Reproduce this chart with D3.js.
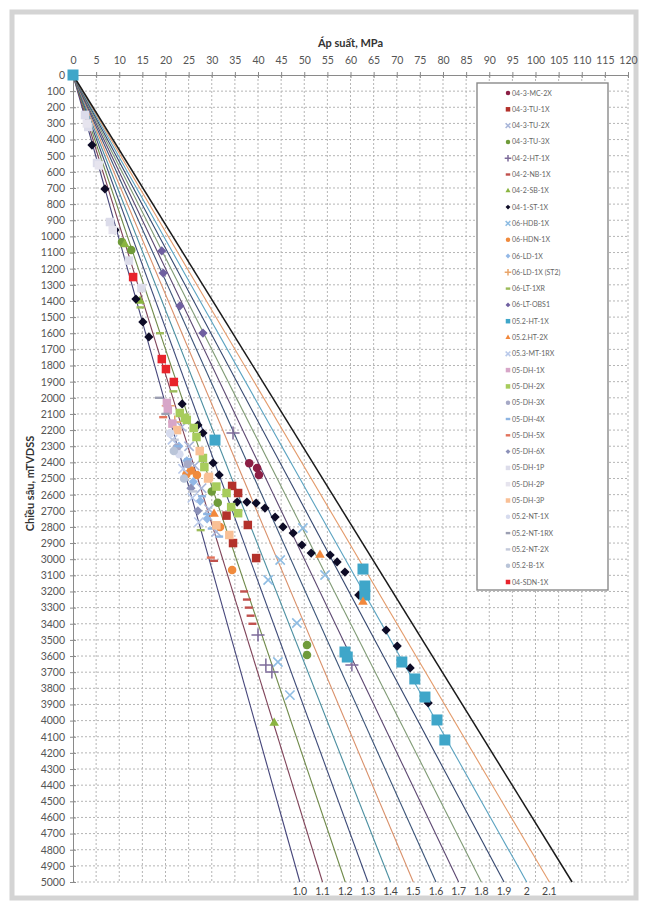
<!DOCTYPE html>
<html>
<head>
<meta charset="utf-8">
<script src="https://cdn.jsdelivr.net/npm/d3@7"></script>
<style>
  body { margin: 0; background: #fff; }
  svg text { font-family: Lato, "Open Sans", sans-serif; }
</style>
</head>
<body>
<div id="visDiv"></div>
<script>
(function () {

	///////////////////////
	// DATA  (pressure MPa, depth m)
	//
	var xTicks = d3.range(0, 125, 5),
		yTicks = d3.range(0, 5100, 100),
		gradients = [1.0, 1.1, 1.2, 1.3, 1.4, 1.5, 1.6, 1.7, 1.8, 1.9, 2.0, 2.1, 2.2],
		gradientLabels = ["1.0", "1.1", "1.2", "1.3", "1.4", "1.5", "1.6", "1.7", "1.8", "1.9", "2", "2.1", ""];

	var mc2x   = [[38.1, 2405], [39.8, 2435], [40.2, 2478]];
	var tu1x   = [[34.4, 2546], [35.7, 2590], [37.8, 2788], [34.6, 2900], [39.6, 2993], [33.2, 2730]];
	var tu2x   = [[23.5, 2180], [25.1, 2300], [26.3, 2420], [27.8, 2560], [29.4, 2690], [31.0, 2830]];
	var tu3x   = [[10.6, 1035], [12.6, 1084], [30.0, 2580], [31.3, 2650], [50.6, 3532], [50.6, 3594]];
	var ht1x   = [[34.6, 2218], [40.0, 3470], [41.7, 3656], [43.0, 3699], [60.3, 3656]];
	var nb1x   = [[37.0, 3200], [37.6, 3250], [38.0, 3300], [38.4, 3350], [38.8, 3400], [30.5, 3010]];
	var sb1x   = [[11.2, 1050], [14.5, 1400], [43.5, 4015]];
	var st1x   = [[4.1, 434], [6.9, 706], [9.1, 960], [13.6, 1388], [15.1, 1530], [16.4, 1623],
	              [23.6, 2038], [27.0, 2169], [28.1, 2218], [30.3, 2404], [31.6, 2478], [35.5, 2646],
	              [37.6, 2646], [39.6, 2652], [41.5, 2683], [43.7, 2739], [45.4, 2800], [47.6, 2838],
	              [49.5, 2912], [51.5, 2962], [55.6, 2974], [57.1, 3017], [58.8, 3080], [61.8, 3222],
	              [67.7, 3439], [70.1, 3538], [72.9, 3674], [76.8, 3891]];
	var hdb1x  = [[49.7, 2807], [54.5, 3098], [44.8, 3005], [42.2, 3129], [48.4, 3395], [44.3, 3637], [46.9, 3842]];
	var hdn1x  = [[26.8, 2478], [25.5, 2450], [31.8, 2800], [34.4, 3067], [24.5, 2475]];
	var ld1x   = [[22.9, 2300], [24.6, 2390], [26.0, 2520], [27.5, 2640], [29.0, 2750]];
	var ld1xst2 = [[20.6, 2050], [22.0, 2150]];
	var lt1xr  = [[14.6, 1440], [18.8, 1600], [21.7, 1960], [27.6, 2820]];
	var ltobs1 = [[19.2, 1090], [19.5, 1227], [23.1, 1431], [28.1, 1599]];
	var ht1xB  = [[0, 0], [30.7, 2262], [62.7, 3061], [63.1, 3166], [63.1, 3222], [58.8, 3575],
	              [59.3, 3606], [71.1, 3637], [73.9, 3742], [76.1, 3854], [78.7, 3996], [80.4, 4120]];
	var ht2x   = [[53.4, 2974], [62.7, 3265], [30.5, 2720]];
	var mt1rx  = [[21.5, 2260], [23.8, 2440], [25.8, 2620], [27.2, 2770]];
	var dh1x   = [[20.3, 2032], [20.5, 2075], [21.5, 2160]];
	var dh2x   = [[23.1, 2094], [24.6, 2137], [26.7, 2243], [28.4, 2429], [33.2, 2590], [34.2, 2677],
	              [24.2, 2124], [26.1, 2187], [28.1, 2373], [35.7, 2715], [31.0, 2550]];
	var dh3x   = [[22.4, 2310], [24.8, 2410]];
	var dh4x   = [[22.7, 2300], [24.9, 2380], [27.9, 2610], [29.0, 2720], [30.0, 2810], [31.6, 2860]];
	var dh5x   = [[19.5, 2120], [29.8, 2990]];
	var dh6x   = [[25.5, 2560], [27.0, 2700]];
	var dh1p   = [[2.6, 248], [3.3, 322], [5.2, 545], [8.0, 911], [12.1, 1150], [14.8, 1320]];
	var dh2p   = [[3.0, 300], [5.6, 560], [8.6, 960]];
	var dh3p   = [[22.5, 2200], [29.2, 2500], [27.4, 2330], [29.4, 2490], [31.0, 2790], [33.8, 2850]];
	var nt1x   = [[21.0, 2220], [23.0, 2350]];
	var nt1rx  = [[18.6, 2000], [20.0, 2100]];
	var nt2x   = [[22.0, 2260], [26.0, 2580]];
	var b1x    = [[21.8, 2330], [24.0, 2500]];
	var sdn1x  = [[13.0, 1252], [19.2, 1760], [20.1, 1822], [21.8, 1902]];

	var series = [
		{name: "04-3-MC-2X",       pts: mc2x,    sym: "circle",   col: "#8c1f45"},
		{name: "04-3-TU-1X",       pts: tu1x,    sym: "square",   col: "#b3312b"},
		{name: "04-3-TU-2X",       pts: tu2x,    sym: "x",        col: "#a9b6d9"},
		{name: "04-3-TU-3X",       pts: tu3x,    sym: "circle",   col: "#6f9b3a"},
		{name: "04-2-HT-1X",       pts: ht1x,    sym: "plus",     col: "#7d6b9a"},
		{name: "04-2-NB-1X",       pts: nb1x,    sym: "dash",     col: "#c0504d"},
		{name: "04-2-SB-1X",       pts: sb1x,    sym: "triangle", col: "#8ab440"},
		{name: "04-1-ST-1X",       pts: st1x,    sym: "diamond",  col: "#0d0b26"},
		{name: "06-HDB-1X",        pts: hdb1x,   sym: "x",        col: "#8fbde3"},
		{name: "06-HDN-1X",        pts: hdn1x,   sym: "circle",   col: "#f08a3c"},
		{name: "06-LD-1X",         pts: ld1x,    sym: "diamond",  col: "#93b8e6"},
		{name: "06-LD-1X (ST2)",   pts: ld1xst2, sym: "plus",     col: "#e9a56a"},
		{name: "06-LT-1XR",        pts: lt1xr,   sym: "dash",     col: "#9bbb59"},
		{name: "06-LT-OBS1",       pts: ltobs1,  sym: "diamond",  col: "#6f5fa0"},
		{name: "05.2-HT-1X",       pts: ht1xB,   sym: "square",   col: "#3fa6c9"},
		{name: "05.2.HT-2X",       pts: ht2x,    sym: "triangle", col: "#f2883c"},
		{name: "05.3-MT-1RX",      pts: mt1rx,   sym: "x",        col: "#b9c9ea"},
		{name: "05-DH-1X",         pts: dh1x,    sym: "square",   col: "#d7a6c8"},
		{name: "05-DH-2X",         pts: dh2x,    sym: "square",   col: "#a7cc5c"},
		{name: "05-DH-3X",         pts: dh3x,    sym: "circle",   col: "#a6a9c6"},
		{name: "05-DH-4X",         pts: dh4x,    sym: "dash",     col: "#8db4e2"},
		{name: "05-DH-5X",         pts: dh5x,    sym: "dash",     col: "#e2735c"},
		{name: "05-DH-6X",         pts: dh6x,    sym: "diamond",  col: "#8b90b8"},
		{name: "05-DH-1P",         pts: dh1p,    sym: "square",   col: "#dcdcea"},
		{name: "05-DH-2P",         pts: dh2p,    sym: "square",   col: "#e6e4ee"},
		{name: "05-DH-3P",         pts: dh3p,    sym: "square",   col: "#f9c096"},
		{name: "05.2-NT-1X",       pts: nt1x,    sym: "circle",   col: "#d6dbee"},
		{name: "05.2-NT-1RX",      pts: nt1rx,   sym: "dash",     col: "#9c9fb2"},
		{name: "05.2-NT-2X",       pts: nt2x,    sym: "dash",     col: "#c3c9da"},
		{name: "05.2-B-1X",        pts: b1x,     sym: "circle",   col: "#b9c4d8"},
		{name: "04-SDN-1X",        pts: sdn1x,   sym: "square",   col: "#e8232b"}
	];

	var gradColors = ["#45457a", "#7e4258", "#6f8a4a", "#3d4a78", "#4a8ea0", "#d9906a",
		"#3b5478", "#5b4670", "#7f9a74", "#34466e", "#5aa2c0", "#e39a6a", "#1a1a1a"];

	///////////////////////
	// DEFS
	//
	var W = 648, H = 910,
		margin = {top: 75, left: 73},
		w = 555,
		h = 807;

	var svg = d3.select('#visDiv')
		.append('svg')
			.attr('width', W)
			.attr('height', H);

	// outer frame
	svg.append('rect')
		.attr('x', 12).attr('y', 12)
		.attr('width', W - 24).attr('height', H - 24)
		.attr('fill', '#fff')
		.attr('stroke', '#d4d4d4')
		.attr('stroke-width', 5);

	var all = svg.append('g')
		.attr('transform', 'translate(' + margin.left + ',' + margin.top + ')');

	var x = d3.scaleLinear().domain([0, 120]).range([0, w]);
	var y = d3.scaleLinear().domain([0, 5000]).range([0, h]);

	// grid
	all.append('g').selectAll('line')
		.data(xTicks.slice(1))
		.enter().append('line')
			.attr('x1', function(d) { return x(d); })
			.attr('x2', function(d) { return x(d); })
			.attr('y1', 0).attr('y2', h)
			.attr('stroke', '#b5b5b5')
			.attr('stroke-dasharray', '2,2');

	all.append('g').selectAll('line')
		.data(yTicks.slice(1))
		.enter().append('line')
			.attr('x1', 0).attr('x2', w)
			.attr('y1', function(d) { return y(d); })
			.attr('y2', function(d) { return y(d); })
			.attr('stroke', '#b5b5b5')
			.attr('stroke-dasharray', '2,2');

	// axes
	var xAxis = all.append('g')
		.call(d3.axisTop(x).tickValues(xTicks).tickFormat(d3.format('d'))
			.tickSizeInner(3).tickSizeOuter(0).tickPadding(8));
	xAxis.select('.domain').attr('stroke', '#8a8a8a');
	xAxis.selectAll('.tick line').attr('stroke', '#8a8a8a').attr('y2', 3).attr('y1', -3);
	xAxis.selectAll('text').attr('fill', '#555').style('font-size', '10.5px');

	var yAxis = all.append('g')
		.call(d3.axisLeft(y).tickValues(yTicks).tickFormat(d3.format('d'))
			.tickSizeInner(3).tickSizeOuter(0).tickPadding(5));
	yAxis.select('.domain').attr('stroke', '#8a8a8a');
	yAxis.selectAll('.tick line').attr('stroke', '#8a8a8a').attr('x2', 3).attr('x1', -3);
	yAxis.selectAll('text').attr('fill', '#555').style('font-size', '10.5px');

	// titles
	svg.append('text')
		.attr('x', margin.left + w / 2).attr('y', 47)
		.attr('text-anchor', 'middle')
		.attr('font-weight', 'bold')
		.attr('font-size', 11)
		.attr('fill', '#333')
		.text('Áp suất, MPa');

	svg.append('text')
		.attr('transform', 'translate(34,' + (margin.top + h / 2 + 5) + ') rotate(-90)')
		.attr('text-anchor', 'middle')
		.attr('font-weight', 'bold')
		.attr('font-size', 11)
		.attr('fill', '#333')
		.text('Chiều sâu, mTVDSS');

	// gradient lines
	var rho = 0.00981;
	all.append('g').selectAll('line')
		.data(gradients)
		.enter().append('line')
			.attr('x1', x(0)).attr('y1', y(0))
			.attr('x2', function(d) { return x(d * rho * 5000); })
			.attr('y2', y(5000))
			.attr('stroke', function(d, i) { return gradColors[i]; })
			.attr('stroke-width', function(d, i) { return i === gradients.length - 1 ? 1.5 : 1.1; });

	all.append('g').selectAll('text')
		.data(gradients)
		.enter().append('text')
			.attr('x', function(d) { return x(d * rho * 5000); })
			.attr('y', h + 13)
			.attr('text-anchor', 'middle')
			.attr('font-size', 10.5)
			.attr('fill', '#444')
			.text(function(d, i) { return gradientLabels[i]; });

	// markers
	function drawSym(g, sym, col, s) {
		if (sym === 'circle') {
			g.append('circle').attr('r', s * 0.5).attr('fill', col);
		} else if (sym === 'square') {
			g.append('rect').attr('x', -s / 2).attr('y', -s / 2).attr('width', s).attr('height', s).attr('fill', col);
		} else if (sym === 'diamond') {
			g.append('path').attr('d', d3.symbol(d3.symbolDiamond2, s * s * 0.75)).attr('fill', col);
		} else if (sym === 'triangle') {
			g.append('path').attr('d', d3.symbol(d3.symbolTriangle, s * s * 0.55)).attr('fill', col);
		} else if (sym === 'x') {
			g.append('path').attr('d', d3.symbol(d3.symbolTimes, s * s * 0.8)).attr('fill', 'none').attr('stroke', col).attr('stroke-width', 1.6);
		} else if (sym === 'plus') {
			g.append('path').attr('d', d3.symbol(d3.symbolCross2 || d3.symbolPlus, s * s * 0.8)).attr('fill', 'none').attr('stroke', col).attr('stroke-width', 1.5);
		} else if (sym === 'dash') {
			g.append('rect').attr('x', -s / 2).attr('y', -1.2).attr('width', s).attr('height', 2.4).attr('fill', col);
		}
	}

	var pts = all.append('g');
	series.forEach(function(s) {
		s.pts.forEach(function(p) {
			var g = pts.append('g').attr('transform', 'translate(' + x(p[0]) + ',' + y(p[1]) + ')');
			var size = s.name === '05.2-HT-1X' ? 11 : (s.sym === 'dash' ? 8 : 8.5);
			drawSym(g, s.sym, s.col, size);
		});
	});

	// legend
	var leg = svg.append('g').attr('transform', 'translate(477,83)');
	leg.append('rect')
		.attr('width', 131).attr('height', 507)
		.attr('fill', '#fff')
		.attr('stroke', '#8a8a8a')
		.attr('stroke-width', 1.4);

	series.forEach(function(s, i) {
		var row = leg.append('g').attr('transform', 'translate(31,' + (10 + i * 16.3) + ')');
		drawSym(row, s.sym, s.col, 4.5);
		row.append('text')
			.attr('x', 4).attr('y', 2.5)
			.attr('font-size', 7)
			.attr('fill', '#666')
			.text(s.name);
	});

}());
</script>
</body>
</html>
